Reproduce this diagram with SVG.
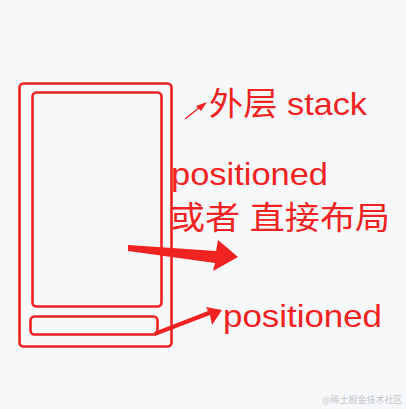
<svg xmlns="http://www.w3.org/2000/svg" width="406" height="409" viewBox="0 0 406 409">
<style>
.box{fill:none;stroke:#f02222;stroke-width:2.6}
.lbl{fill:#f02222;font-family:"Liberation Sans","Noto Sans CJK SC",sans-serif;font-size:32px}
.arr{fill:#f02222}
</style>
<rect width="406" height="409" fill="#f7f8fa"/>
<g id="outer-stack"><rect class="box" x="19.5" y="83.5" width="152" height="263" rx="4"/></g>
<g id="inner-area"><rect class="box" x="32.5" y="92.5" width="129" height="214" rx="4"/></g>
<g id="bottom-bar"><rect class="box" x="30.5" y="316.5" width="127" height="18" rx="4"/></g>
<g id="connectors">
<line x1="185" y1="119" x2="200" y2="107" stroke="#f02222" stroke-width="1.5"/>
<polygon class="arr" points="207,102 196,106 201,111"/>
<polygon class="arr" points="128,245 216,251 218,240 238,257 213,271 215,263 128,251"/>
<polygon class="arr" points="155,336 210,315 212,325 222,310 206,307 208,311 154,332"/>
</g>
<g id="label-outer"><text class="lbl" x="209" y="115" textLength="158" lengthAdjust="spacingAndGlyphs">外层 stack</text></g>
<g id="label-inner"><text class="lbl" x="171" y="185" textLength="157" lengthAdjust="spacingAndGlyphs">positioned</text><text class="lbl" x="170" y="229" textLength="220" lengthAdjust="spacingAndGlyphs">或者 直接布局</text></g>
<g id="label-bottom"><text class="lbl" x="223" y="327" textLength="159" lengthAdjust="spacingAndGlyphs">positioned</text></g>
<text x="322" y="403" fill="#c4c6ca" font-family="'Noto Sans CJK SC',sans-serif" font-size="9">@稀土掘金技术社区</text>
</svg>
